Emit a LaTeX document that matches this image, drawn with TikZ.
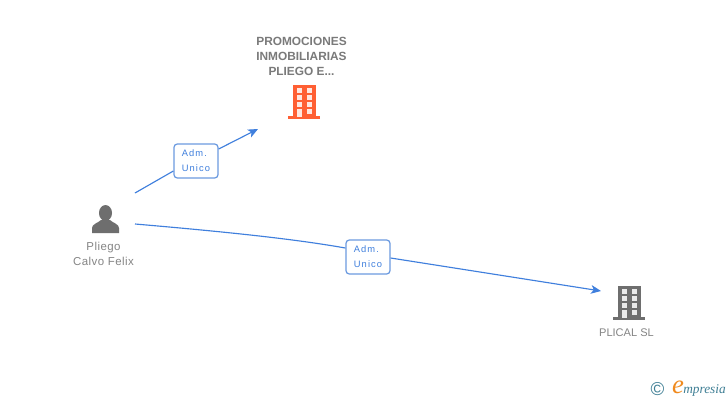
\documentclass[tikz,border=0pt]{standalone}
\usepackage{fontspec}
\setmainfont{Liberation Sans}
\newfontfamily\lblfont[LetterSpace=12]{Liberation Sans}
\newfontfamily\namefont[LetterSpace=4]{Liberation Sans}
\newfontfamily\logofont{Liberation Serif}
\usetikzlibrary{arrows.meta}
\definecolor{linkblue}{HTML}{3F7FDD}
\definecolor{boxblue}{HTML}{6C9BE0}
\definecolor{nametext}{HTML}{858585}
\definecolor{titletext}{HTML}{7A7A7A}
\definecolor{iconorange}{HTML}{FF5F33}
\definecolor{icongrey}{HTML}{6E6E6E}
\definecolor{logoteal}{HTML}{3F7F95}
\definecolor{logoorange}{HTML}{F08A1E}
\tikzset{
  px/.style={x=0.75pt,y=-0.75pt},
  connector/.style={draw=linkblue,line width=0.85pt},
  tipped/.style={connector,-{Stealth[length=7.5pt,width=6.5pt,inset=2pt]}},
  rolebox/.style={draw=boxblue,line width=0.95pt,rounded corners=2.5pt,fill=white,
    minimum width=33pt,minimum height=25.5pt,inner sep=0pt,align=left,
    font=\lblfont\fontsize{7}{11.2}\selectfont,text=linkblue},
  nametxt/.style={align=center,inner sep=0pt,font=\namefont\fontsize{8.6}{11.25}\selectfont,text=nametext},
  titletxt/.style={align=center,inner sep=0pt,font=\fontsize{8.9}{11.25}\selectfont\bfseries,text=titletext},
}
% building icon: #1 colour, centred on the current origin
\newcommand{\buildingicon}[1]{%
  \fill[#1] (-11.5,-17) rectangle (11.5,14);
  \fill[#1] (-16,14) rectangle (16,17);
  \foreach \yy in {-14,-7,0}{
    \fill[white,opacity=.85] (-7.5,\yy) rectangle (-2,{\yy+5});
    \fill[white,opacity=.85] (2.5,\yy) rectangle (8,{\yy+5});
  }
  \fill[white,opacity=.85] (2.5,6.5) rectangle (8,11.5);
  \fill[white,opacity=.85] (-7.5,7) rectangle (-2.5,15);
}
\begin{document}
\begin{tikzpicture}[px]
\useasboundingbox (0,0) rectangle (728,400);
\fill[white] (0,0) rectangle (728,400);

% anchors of the connectors
\coordinate (s1) at (135,193);
\coordinate (e1) at (258,129);
\coordinate (s2) at (135,224);
\coordinate (e2) at (601,291);

% role boxes
\node[rolebox] (r1) at (196,161) {Adm.\\Unico};
\node[rolebox] (r2) at (368,257) {Adm.\\Unico};

% connectors
\draw[connector] (s1) -- (r1.south west |- 0,171);
\draw[tipped] (r1.east |- 0,149) -- (e1);
\draw[connector] (s2) .. controls (240,233) and (300,240) .. (r2.west |- 0,248);
\draw[tipped] (r2.east |- 0,258) -- (e2);

% top company
\node[titletxt] (t1) at (301.5,56) {PROMOCIONES\\INMOBILIARIAS\\PLIEGO E...};
\begin{scope}[shift={(304,102)}]\buildingicon{iconorange}\end{scope}

% person
\fill[icongrey] (105.5,213) circle[x radius=6.5,y radius=8];
\fill[icongrey] (92,233) -- (92,228) .. controls (92,224) and (98,223) .. (101,220)
  -- (110,220) .. controls (113,223) and (119,224) .. (119,228) -- (119,233) -- cycle;
\node[nametxt] (n1) at (103.5,254) {Pliego\\Calvo Felix};

% second company
\begin{scope}[shift={(629,303)}]\buildingicon{icongrey}\end{scope}
\node[nametxt,font=\fontsize{8.3}{10.8}\selectfont] (n2) at (626.5,332.5) {PLICAL SL};

% logo
\node[inner sep=0pt,text=logoteal,font=\fontsize{14}{15}\selectfont] (c) at (657.5,389) {©};
\node[inner sep=0pt,text=logoorange,font=\logofont\itshape\fontsize{20}{20}\selectfont] (le) at (678,387) {e};
\node[inner sep=0pt,anchor=west,text=logoteal,font=\logofont\itshape\fontsize{10}{11}\selectfont] (lm) at (683,390) {mpresia};
\end{tikzpicture}
\end{document}
